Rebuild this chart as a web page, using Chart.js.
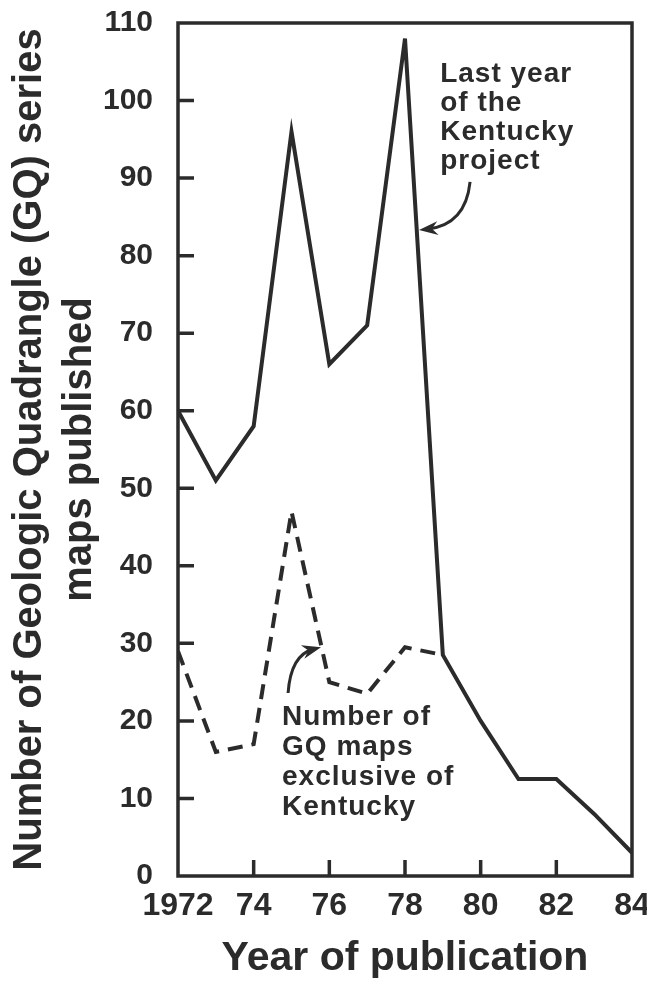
<!DOCTYPE html>
<html>
<head>
<meta charset="utf-8">
<script src="https://cdn.jsdelivr.net/npm/chart.js@4"></script>
<style>
  html, body { margin: 0; padding: 0; background: #fff; }
  #wrap { width: 647px; height: 983px; }
</style>
</head>
<body>
<div id="wrap"><canvas id="gqChart"></canvas></div>
<script>
// values
const years = [1972, 1973, 1974, 1975, 1976, 1977, 1978, 1979, 1980, 1981, 1982, 1983, 1984];
const allGqMaps = [60, 51, 58, 96, 66, 71, 108, 28.5, 20, 12.5, 12.5, 8, 3];
const gqExclKentucky = [29, 16, 17, 47, 25, 23.5, 29.5, 28.5, null, null, null, null, null];
const xTickYears = [1972, 1974, 1976, 1978, 1980, 1982, 1984];
const yTickValues = [0, 10, 20, 30, 40, 50, 60, 70, 80, 90, 100, 110];

const kentuckyNote = ['Last year', 'of the', 'Kentucky', 'project'];
const exclusiveNote = ['Number of', 'GQ maps', 'exclusive of', 'Kentucky'];

const ink = '#2b2b2b';
const family = "'Liberation Sans', Arial, Helvetica, sans-serif";

// frame round the plot and the short inward ticks
const framePlugin = {
    id: 'frame',
    afterDatasetsDraw(chart) {
        const {ctx, chartArea: a, scales: {x, y}} = chart;
        ctx.save();
        ctx.strokeStyle = ink;
        ctx.lineWidth = 3.5;
        ctx.strokeRect(a.left, a.top, a.right - a.left, a.bottom - a.top);
        ctx.beginPath();
        yTickValues.slice(1, -1).forEach(v => {
            const py = y.getPixelForValue(v);
            ctx.moveTo(a.left, py);
            ctx.lineTo(a.left + 16, py);
        });
        xTickYears.slice(1, -1).forEach(v => {
            const px = x.getPixelForValue(v);
            ctx.moveTo(px, a.bottom);
            ctx.lineTo(px, a.bottom - 16);
        });
        ctx.stroke();
        ctx.restore();
    }
};

function drawArrow(ctx, x, y, from, ctrl, tip) {
    const p0 = [x.getPixelForValue(from[0]), y.getPixelForValue(from[1])];
    const pc = [x.getPixelForValue(ctrl[0]), y.getPixelForValue(ctrl[1])];
    const p1 = [x.getPixelForValue(tip[0]), y.getPixelForValue(tip[1])];
    const ang = Math.atan2(p1[1] - pc[1], p1[0] - pc[0]);
    const c = Math.cos(ang), s = Math.sin(ang);
    ctx.beginPath();
    ctx.moveTo(p0[0], p0[1]);
    ctx.quadraticCurveTo(pc[0], pc[1], p1[0] - 8 * c, p1[1] - 8 * s);
    ctx.stroke();
    ctx.beginPath();
    ctx.moveTo(p1[0], p1[1]);
    ctx.lineTo(p1[0] - 19 * c + 7 * s, p1[1] - 19 * s - 7 * c);
    ctx.lineTo(p1[0] - 13 * c, p1[1] - 13 * s);
    ctx.lineTo(p1[0] - 19 * c - 7 * s, p1[1] - 19 * s + 7 * c);
    ctx.closePath();
    ctx.fill();
}

function drawNote(ctx, x, y, lines, at, step) {
    const px = x.getPixelForValue(at[0]);
    const py = y.getPixelForValue(at[1]);
    lines.forEach((line, i) => ctx.fillText(line, px, py + i * step));
}

const notesPlugin = {
    id: 'notes',
    afterDraw(chart) {
        const {ctx, scales: {x, y}} = chart;
        ctx.save();
        ctx.fillStyle = ink;
        ctx.strokeStyle = ink;
        ctx.lineWidth = 3;
        ctx.font = 'bold 28px ' + family;
        ctx.letterSpacing = '1px';
        ctx.textAlign = 'left';
        ctx.textBaseline = 'alphabetic';
        drawNote(ctx, x, y, kentuckyNote, [1978.93, 102.4], 29);
        drawNote(ctx, x, y, exclusiveNote, [1974.75, 19.5], 30);
        drawArrow(ctx, x, y, [1979.72, 89.5], [1979.6, 83.9], [1978.37, 83.3]);
        drawArrow(ctx, x, y, [1974.91, 23.6], [1974.98, 28.5], [1975.78, 29.5]);
        ctx.restore();
    }
};

const toPoints = vals => vals.map((v, i) => ({x: years[i], y: v}));

new Chart(document.getElementById('gqChart'), {
    type: 'line',
    data: {
        datasets: [{
            label: 'GQ maps exclusive of Kentucky',
            data: toPoints(gqExclKentucky),
            borderColor: ink,
            borderWidth: 4,
            borderDash: [15, 9],
            borderJoinStyle: 'miter',
            pointRadius: 0,
            tension: 0,
            spanGaps: false,
            order: 2
        }, {
            label: 'All GQ maps',
            data: toPoints(allGqMaps),
            borderColor: ink,
            borderWidth: 4,
            borderJoinStyle: 'miter',
            pointRadius: 0,
            tension: 0,
            order: 1
        }]
    },
    options: {
        responsive: true,
        maintainAspectRatio: false,
        animation: false,
        layout: { padding: { top: 23, right: 15, left: 0, bottom: 0 } },
        plugins: {
            legend: { display: false },
            tooltip: { enabled: false }
        },
        scales: {
            x: {
                type: 'linear',
                min: 1972,
                max: 1984,
                grid: { display: false },
                border: { display: false },
                afterBuildTicks: scale => { scale.ticks = xTickYears.map(v => ({value: v})); },
                afterFit: scale => { scale.height = 107; scale.paddingLeft = 0; scale.paddingRight = 0; },
                ticks: {
                    maxRotation: 0,
                    autoSkip: false,
                    padding: 3,
                    color: ink,
                    font: { family: family, size: 32, weight: 'bold' },
                    callback: v => v === 1972 ? '1972' : String(v % 100)
                },
                title: {
                    display: true,
                    text: 'Year of publication',
                    color: ink,
                    padding: 0,
                    font: { family: family, size: 41, weight: 'bold', lineHeight: 1.2 }
                }
            },
            y: {
                min: 0,
                max: 110,
                grid: { display: false },
                border: { display: false },
                afterBuildTicks: scale => { scale.ticks = yTickValues.map(v => ({value: v})); },
                afterFit: scale => { scale.width = 178; scale.paddingTop = 0; scale.paddingBottom = 0; },
                ticks: {
                    padding: 17,
                    color: ink,
                    font: { family: family, size: 30, weight: 'bold' }
                },
                title: {
                    display: true,
                    text: ['Number of Geologic Quadrangle (GQ) series', 'maps published'],
                    color: ink,
                    padding: { top: 5, bottom: 0 },
                    font: { family: family, size: 40, weight: 'bold', lineHeight: 1.25 }
                }
            }
        }
    },
    plugins: [framePlugin, notesPlugin]
});
</script>
</body>
</html>
